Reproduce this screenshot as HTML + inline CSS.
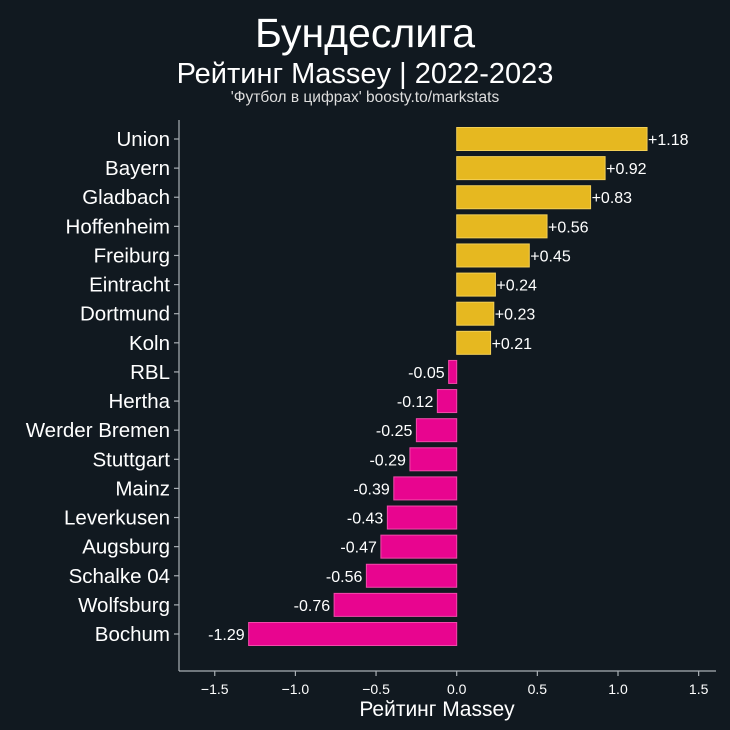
<!DOCTYPE html>
<html><head><meta charset="utf-8"><style>
html,body{margin:0;padding:0;background:#111920;}
svg{display:block;font-family:"Liberation Sans","DejaVu Sans",sans-serif;}
</style></head><body>
<svg id="c" width="730" height="730" viewBox="0 0 730 730" xmlns="http://www.w3.org/2000/svg">
<rect width="730" height="730" fill="#111920"/>
<text x="365" y="47" text-anchor="middle" fill="#fff" font-size="41">Бундеслига</text>
<text x="365" y="83" text-anchor="middle" fill="#fff" font-size="29">Рейтинг Massey | 2022-2023</text>
<text x="365" y="102" text-anchor="middle" fill="#ddd" font-size="15.5">'Футбол в цифрах' boosty.to/markstats</text>
<g id="plot"></g>
<text x="437" y="716" text-anchor="middle" fill="#fff" font-size="21">Рейтинг Massey</text>
</svg>
<script>
const teams = ["Union","Bayern","Gladbach","Hoffenheim","Freiburg","Eintracht","Dortmund","Koln","RBL","Hertha","Werder Bremen","Stuttgart","Mainz","Leverkusen","Augsburg","Schalke 04","Wolfsburg","Bochum"];
const ratings = [1.18,0.92,0.83,0.56,0.45,0.24,0.23,0.21,-0.05,-0.12,-0.25,-0.29,-0.39,-0.43,-0.47,-0.56,-0.76,-1.29];
const xTicks = [-1.5,-1.0,-0.5,0.0,0.5,1.0,1.5];
const xTickLabels = ["−1.5","−1.0","−0.5","0.0","0.5","1.0","1.5"];

const NS="http://www.w3.org/2000/svg";
const g=document.getElementById('plot');
const x0=456.7, k=161.3;
const xs=v=>x0+v*k;
const yTop=139, step=(634-139)/17;
const ys=i=>yTop+i*step;
const bh=23;
function mk(t,a){const e=document.createElementNS(NS,t);for(const n in a)e.setAttribute(n,a[n]);g.appendChild(e);return e;}
let sp=mk('line',{x1:179,y1:120,x2:179,y2:671,stroke:'#aab0b5','stroke-width':1.2});


let sx=mk('line',{x1:179,y1:671,x2:716,y2:671,stroke:'#aab0b5','stroke-width':1.2});


xTicks.forEach((t,i)=>{
  const tk=mk('line',{x1:xs(t),y1:671,x2:xs(t),y2:676,stroke:'#aab0b5','stroke-width':1.2});
  
  
  const tl=mk('text',{x:xs(t),y:694,'text-anchor':'middle',fill:'#fff','font-size':14});
  tl.textContent=xTickLabels[i];
  
  
});
teams.forEach((tm,i)=>{
  const v=ratings[i], y=ys(i);
  const pos=v>=0;
  const r=mk('rect',{x:Math.min(xs(0),xs(v)),y:y-bh/2,width:Math.abs(xs(v)-xs(0)),height:bh,fill:pos?'#e6b820':'#e8058f',stroke:pos?'#f3cf55':'#f24aaa','stroke-width':1});
  
  
  const tk=mk('line',{x1:174,y1:y,x2:179,y2:y,stroke:'#aab0b5','stroke-width':1.2});
  
  
  const lb=mk('text',{x:170,y:y+7,'text-anchor':'end',fill:'#fff','font-size':20.5});
  lb.textContent=tm;
  
  
  const vl=mk('text',{x:pos?xs(v)+1:xs(v)-4,y:y+6,'text-anchor':pos?'start':'end',fill:'#fff','font-size':16});
  vl.textContent=(pos?'+':'')+v.toFixed(2);
  
  
});
</script>
</body></html>
